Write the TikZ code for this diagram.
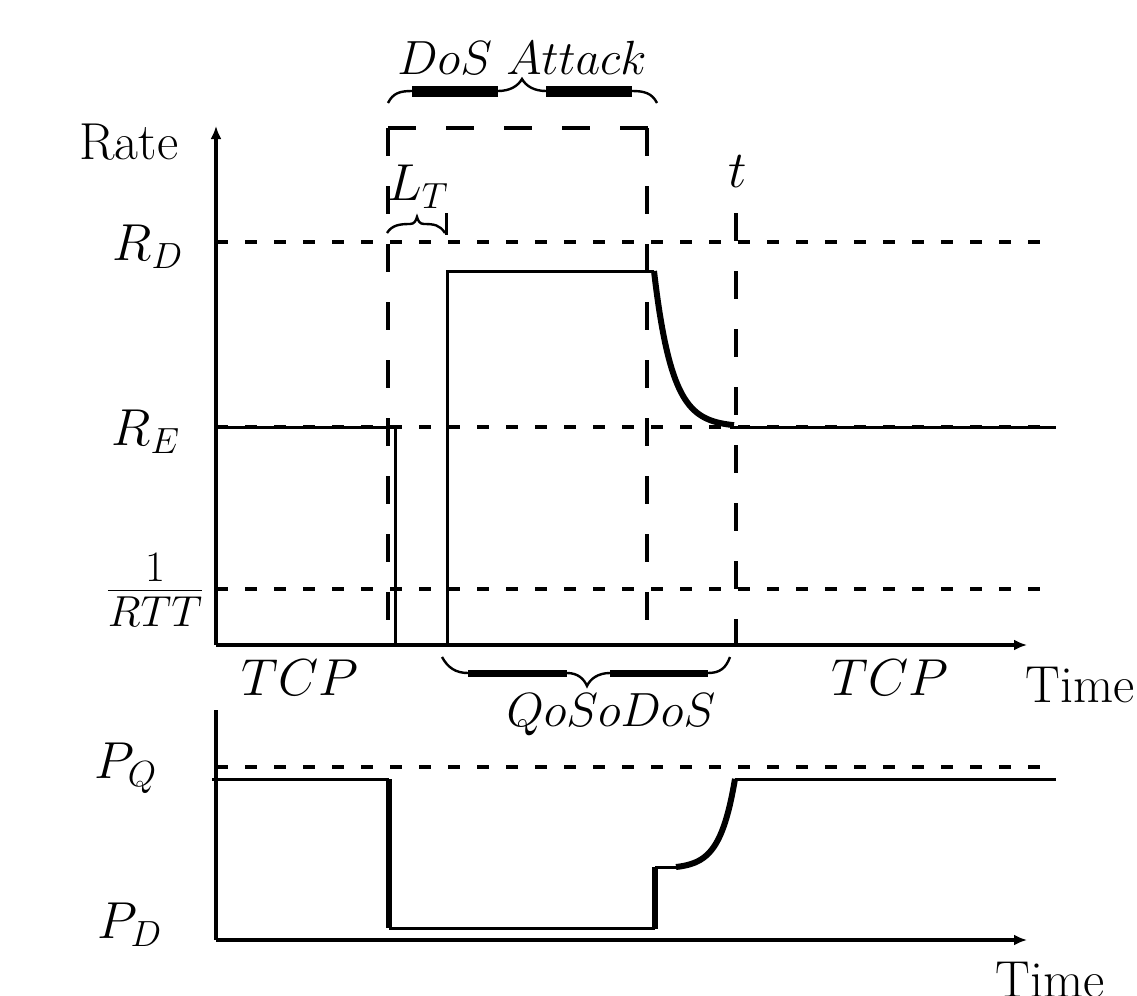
\RequirePackage{fix-cm}
\documentclass[tikz,border=0pt]{standalone}
\usetikzlibrary{arrows.meta}
\begin{document}
\begin{tikzpicture}[x=0.5pt,y=-0.5pt,
  ax/.style={line width=1.6pt},
  axarrow/.style={line width=1.6pt,-{Latex[length=6.5pt,width=5.5pt]}},
  sig/.style={line width=1.5pt},
  thk/.style={line width=3pt},
  hdash/.style={line width=1.6pt,dash pattern=on 6pt off 8.5pt},
  vdash/.style={line width=1.6pt,dash pattern=on 14pt off 15pt},
  lbl/.style={font=\fontsize{26}{30}\selectfont,inner sep=0pt},
  blbl/.style={font=\fontsize{24}{28}\selectfont,inner sep=0pt},
  brace/.style={line width=1.2pt},
]
\useasboundingbox (0,0) rectangle (1137,996);
\clip (0,0) rectangle (1137,996);

% ---------- upper plot ----------
\draw[hdash] (216,242) -- (1056,242);
\draw[hdash] (216,427) -- (1056,427);
\draw[hdash] (216,589) -- (1056,589);
\draw[sig] (216,242) -- (226,242);
\draw[sig] (216,589) -- (226,589);

\draw[vdash] (388,128) -- (388,645);
\draw[vdash] (388,128) -- (648,128);
\draw[vdash] (647,128) -- (647,645);
\draw[vdash] (736,213) -- (736,645);

\draw[axarrow] (216,645) -- (216,126);
\draw[axarrow] (216,645) -- (1027,645);

\draw[sig] (216,427) -- (395,427) -- (395,645) -- (447,645) -- (447,271) -- (654,271);
\draw[thk] plot[domain=0:80,samples=60] ({654+\x},{427-156*exp(-\x/18)});
\draw[sig] (730,427) -- (1056,427);

% braces
\draw[brace] (388,103) .. controls (393,93) and (400,91) .. (412,91) -- (498,91)
  .. controls (510,91) and (518,86) .. (522,79) .. controls (526,86) and (534,91) .. (546,91)
  -- (632,91) .. controls (644,91) and (652,93) .. (657,103);
\draw[line width=5.5pt] (412,91) -- (498,91) (546,91) -- (632,91);

\draw[brace] (387,233) .. controls (392,225) and (400,224) .. (410,224)
  .. controls (414,224) and (416,221) .. (417,217) .. controls (418,221) and (420,224) .. (424,224)
  .. controls (434,224) and (440,225) .. (445,233);
\draw[sig] (446,213) -- (446,235);

\draw[brace] (442,657) .. controls (448,668) and (456,673) .. (468,673) -- (567,673)
  .. controls (578,673) and (584,679) .. (587,686) .. controls (590,679) and (598,673) .. (610,673)
  -- (708,673) .. controls (720,673) and (726,668) .. (730,657);
\draw[line width=3.5pt] (468,673) -- (567,673) (610,673) -- (708,673);

% labels
\node[lbl] (rate) at (129,142) {Rate};
\node[lbl] (rd) at (148,247) {$R_D$};
\node[lbl] (re) at (146,432) {$R_E$};
\node[font=\fontsize{31}{36}\selectfont,inner sep=0pt] (rtt) at (155,590) {$\frac{1}{RTT}$};
\node[lbl] (tcp1) at (300,678) {$TCP$};
\node[lbl] (tcp2) at (890,678) {$TCP$};
\node[lbl,anchor=base west] (time1) at (1025,702) {Time};
\node[blbl,anchor=base] (dos) at (522,74) {$DoS\ Attack$};
\node[lbl] (lt) at (418,187) {$L_T$};
\node[lbl] (t) at (738,172) {$t$};
\node[blbl,anchor=base] (q) at (611,726) {$QoSoDoS$};

% ---------- lower plot ----------
\draw[hdash] (216,767) -- (1056,767);
\draw[ax] (216,940) -- (216,710);
\draw[axarrow] (216,940) -- (1027,940);

\draw[sig] (212,779) -- (389,779);
\draw[thk] (389,779) -- (389,928);
\draw[sig] (389,928) -- (655,928);
\draw[thk] (655,929) -- (655,867);
\draw[sig] (655,867) -- (676,867);
\draw[thk] plot[domain=0:59,samples=60] ({676+\x},{867-1.76*(exp(\x/15)-1)});
\draw[sig] (735,779) -- (1056,779);

\node[lbl] (pq) at (126,768) {$P_Q$};
\node[lbl] (pd) at (130,925) {$P_D$};
\node[lbl,anchor=base west] (time2) at (995,997) {Time};
\end{tikzpicture}
\end{document}
